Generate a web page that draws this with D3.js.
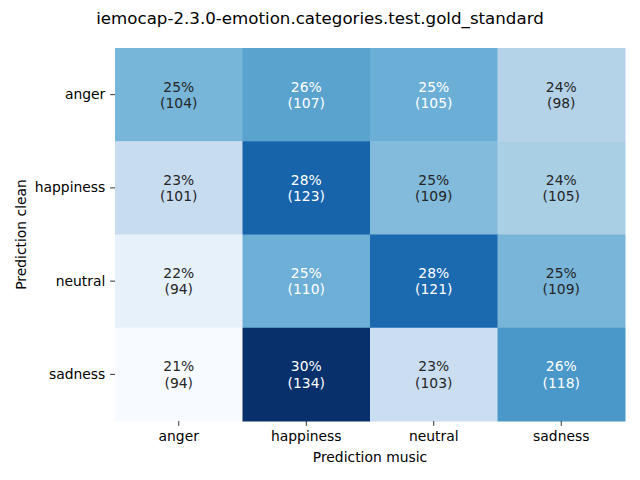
<!DOCTYPE html>
<html><head><meta charset="utf-8">
<script src="https://cdn.jsdelivr.net/npm/d3@7"></script>
<style>body{margin:0;background:#fff}</style>
</head><body>
<svg id="c" width="640" height="480"></svg>
<script>
const rowLabels = ["anger", "happiness", "neutral", "sadness"];
const colLabels = ["anger", "happiness", "neutral", "sadness"];
const counts = [
  [104, 107, 105, 98],
  [101, 123, 109, 105],
  [94, 110, 121, 109],
  [94, 134, 103, 118]
];
const title = "iemocap-2.3.0-emotion.categories.test.gold_standard";
const xTitle = "Prediction music";
const yTitle = "Prediction clean";
const bluesStops = ["#f7fbff","#deebf7","#c6dbef","#9ecae1","#6baed6","#4292c6","#2171b5","#08519c","#08306b"];

const svg = d3.select("#c");
const font = "DejaVu Sans, sans-serif";
const fs = 13.89;
const L = 115, R = 625, T = 48, B = 421;

const x = d3.scaleBand().domain(colLabels).range([L, R]);
const y = d3.scaleBand().domain(rowLabels).range([T, B]);

const cells = [];
counts.forEach((row, i) => {
  const tot = d3.sum(row);
  row.forEach((v, j) => cells.push({r: rowLabels[i], c: colLabels[j], v, p: 100 * v / tot}));
});
const ext = d3.extent(cells, d => d.p);
const cmap = d3.scaleLinear().domain(d3.range(9).map(k => k / 8)).range(bluesStops).interpolate(d3.interpolateRgb);
const col = p => cmap((p - ext[0]) / (ext[1] - ext[0]));

function lum(c) {
  const rgb = d3.rgb(c);
  const f = u => { u /= 255; return u <= 0.03928 ? u / 12.92 : Math.pow((u + 0.055) / 1.055, 2.4); };
  return 0.2126 * f(rgb.r) + 0.7152 * f(rgb.g) + 0.0722 * f(rgb.b);
}

const g = svg.append("g");
g.selectAll("rect").data(cells).join("rect")
  .attr("x", d => x(d.c)).attr("y", d => y(d.r))
  .attr("width", x.bandwidth() + 0.5).attr("height", y.bandwidth() + 0.5)
  .attr("fill", d => col(d.p));

cells.forEach(d => {
  const fill = lum(col(d.p)) > 0.408 ? "#262626" : "#ffffff";
  const cx = x(d.c) + x.bandwidth() / 2, cy = y(d.r) + y.bandwidth() / 2;
  const t = g.append("text").attr("text-anchor", "middle").attr("font-family", font)
    .attr("font-size", fs).attr("fill", fill);
  t.append("tspan").attr("x", cx).attr("y", cy - 3).text(Math.round(d.p) + "%");
  t.append("tspan").attr("x", cx).attr("y", cy + 13.3).text("(" + d.v + ")");
});

const xa = svg.append("g").attr("transform", `translate(0,${B})`).call(d3.axisBottom(x).tickSize(4.86).tickPadding(4.86));
const ya = svg.append("g").attr("transform", `translate(${L},0)`).call(d3.axisLeft(y).tickSize(4.86).tickPadding(4.86));
[xa, ya].forEach(a => {
  a.select(".domain").remove();
  a.selectAll("text").attr("font-family", font).attr("font-size", fs).attr("fill", "#000");
  a.selectAll("line").attr("stroke", "#000").attr("stroke-width", 0.8);
});

svg.append("text").attr("x", 320).attr("y", 24).attr("text-anchor", "middle")
  .attr("font-family", font).attr("font-size", 16.67).text(title);
svg.append("text").attr("x", (L + R) / 2).attr("y", 462).attr("text-anchor", "middle")
  .attr("font-family", font).attr("font-size", fs).text(xTitle);
svg.append("text").attr("transform", `translate(26,${(T + B) / 2}) rotate(-90)`).attr("text-anchor", "middle")
  .attr("font-family", font).attr("font-size", fs).text(yTitle);
</script>
</body></html>
